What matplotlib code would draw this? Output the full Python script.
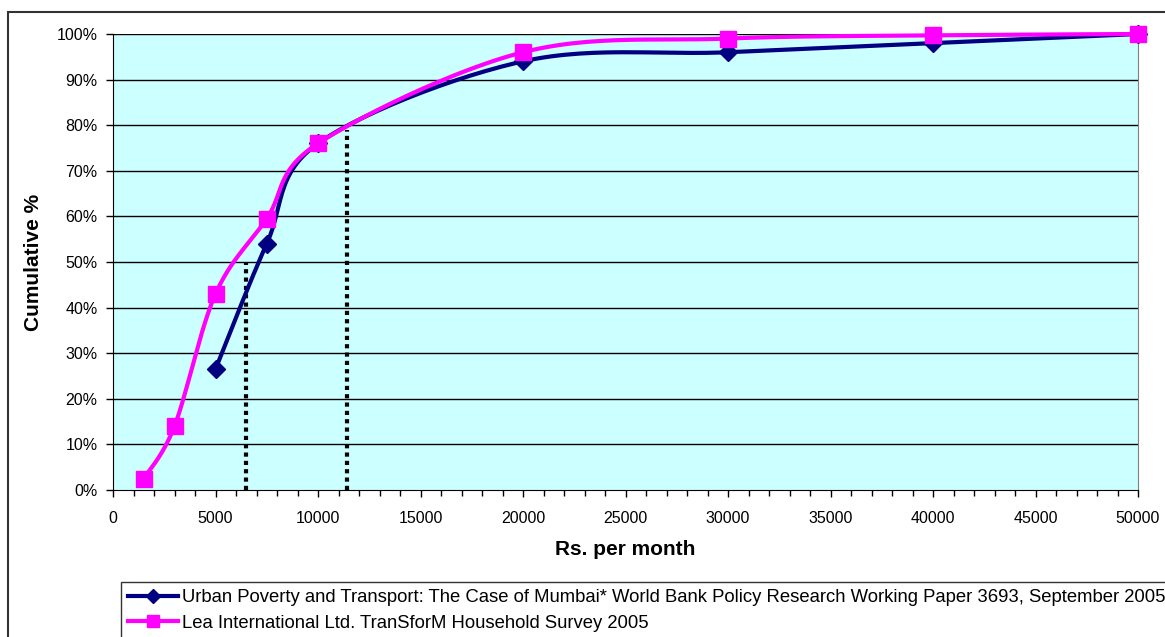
import numpy as np
import matplotlib
matplotlib.use("Agg")
import matplotlib.pyplot as plt
from matplotlib.patches import Rectangle
from matplotlib.lines import Line2D

plt.rcParams['font.family'] = ['Liberation Sans', 'DejaVu Sans']

# Data
wb_x = [5000, 7500, 10000, 20000, 30000, 40000, 50000]
wb_y = [0.265, 0.54, 0.76, 0.94, 0.96, 0.98, 1.00]
lea_x = [1500, 3000, 5000, 7500, 10000, 20000, 30000, 40000, 50000]
lea_y = [0.025, 0.14, 0.43, 0.595, 0.76, 0.96, 0.99, 0.997, 1.00]
ref_x = [6500, 11400]
ref_top = [0.50, 0.79]
wb_label = "Urban Poverty and Transport: The Case of Mumbai* World Bank Policy Research Working Paper 3693, September 2005"
lea_label = "Lea International Ltd. TranSforM Household Survey 2005"

W, H = 1165, 637
fig = plt.figure(figsize=(W / 100, H / 100), dpi=100)
fig.patch.set_facecolor('white')

# outer chart border
fig.add_artist(Rectangle((8 / W, -0.1), 1.2, (H - 12) / H + 0.1, transform=fig.transFigure,
                         fill=False, edgecolor='#333333', linewidth=1.5))

L, T, R, B = 113, 34, 1138, 490
ax = fig.add_axes([L / W, (H - B) / H, (R - L) / W, (B - T) / H])
ax.set_facecolor('#CCFFFF')
ax.set_xlim(0, 50000)
ax.set_ylim(0, 1.0)


def smooth(xs, ys, n=30):
    pts = ax.transData.transform(np.column_stack([xs, ys]))
    P = np.vstack([pts[0], pts, pts[-1]])
    out = []
    for i in range(1, len(P) - 2):
        p0, p1, p2, p3 = P[i - 1], P[i], P[i + 1], P[i + 2]
        c1 = p1 + (p2 - p0) / 6.0
        c2 = p2 - (p3 - p1) / 6.0
        t = np.linspace(0, 1, n)[:, None]
        seg = ((1 - t) ** 3) * p1 + 3 * ((1 - t) ** 2) * t * c1 + 3 * (1 - t) * t ** 2 * c2 + t ** 3 * p2
        out.append(seg if i == 1 else seg[1:])
    seg = np.vstack(out)
    d = ax.transData.inverted().transform(seg)
    return d[:, 0], d[:, 1]


for yv in np.arange(0.1, 1.01, 0.1):
    ax.axhline(yv, color='black', linewidth=1.0, zorder=1)

for xv, tv in zip(ref_x, ref_top):
    ax.plot([xv, xv], [0, tv], color='black', linestyle=(0, (1, 1)), linewidth=3, zorder=2)

sx, sy = smooth(wb_x, wb_y)
ax.plot(sx, sy, color='#000080', linewidth=3, zorder=3, solid_capstyle='round', clip_on=False)
ax.plot(wb_x, wb_y, linestyle='none', marker='D', markersize=9, color='#000080', zorder=4, clip_on=False)

sx, sy = smooth(lea_x, lea_y)
ax.plot(sx, sy, color='#FF00FF', linewidth=3, zorder=5, solid_capstyle='round', clip_on=False)
ax.plot(lea_x, lea_y, linestyle='none', marker='s', markersize=11.5, color='#FF00FF', zorder=6, clip_on=False)

ax.spines['top'].set_visible(False)
ax.spines['right'].set_color('#808080')
ax.spines['left'].set_color('black')
ax.spines['bottom'].set_color('black')

ax.set_xticks(np.arange(0, 50001, 5000))
ax.set_xticks(np.arange(0, 50001, 1000), minor=True)
ax.set_yticks(np.arange(0, 1.01, 0.1))
ax.set_yticklabels([f"{int(round(v * 100))}%" for v in np.arange(0, 1.01, 0.1)])
ax.tick_params(axis='both', which='major', direction='out', length=5, width=1, labelsize=11.5, colors='black')
ax.tick_params(axis='x', which='minor', direction='out', length=4, width=1)
ax.tick_params(axis='x', pad=10)
ax.tick_params(axis='y', pad=6)

ax.set_xlabel("Rs. per month", fontsize=15, fontweight='bold', labelpad=10)
ax.set_ylabel("Cumulative %", fontsize=15, fontweight='bold', labelpad=10)

handles = [
    Line2D([], [], color='#000080', linewidth=3, marker='D', markersize=7),
    Line2D([], [], color='#FF00FF', linewidth=3, marker='s', markersize=9),
]
leg = fig.legend(handles, [wb_label, lea_label], loc='upper left',
                 bbox_to_anchor=(121 / W, 1 - 582 / H), fontsize=13.3, frameon=True,
                 fancybox=False, edgecolor='black', handlelength=2.7, handletextpad=0.2,
                 borderpad=0.4, labelspacing=0.45, borderaxespad=0)
leg.get_frame().set_linewidth(1.0)

fig.savefig("out.png", dpi=100)
